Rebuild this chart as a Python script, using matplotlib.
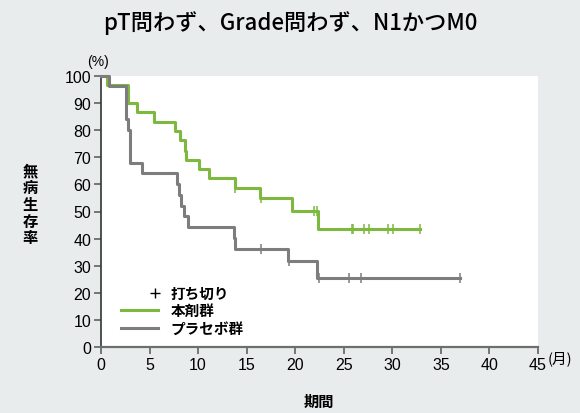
import numpy as np
import matplotlib
matplotlib.use('Agg')
import matplotlib.pyplot as plt
from matplotlib.lines import Line2D
from matplotlib.legend_handler import HandlerLine2D

plt.rcParams['font.family'] = ['Liberation Sans', 'Noto Sans CJK JP', 'DejaVu Sans']

# Kaplan-Meier steps (months, %)
drug_t = [0, 0.6, 2.75, 3.7, 5.5, 7.6, 8.1, 8.6, 8.8, 10.1, 11.1, 13.85, 16.4, 19.7, 22.35]
drug_s = [100, 96.7, 90.0, 86.7, 83.0, 79.8, 76.2, 72.5, 69.0, 65.7, 62.4, 58.8, 55.0, 50.1, 43.5]
drug_end = 32.9
drug_cens = [13.85, 16.45, 21.9, 22.25, 25.8, 26.0, 27.1, 27.6, 29.6, 30.1, 32.9]

plac_t = [0, 0.85, 2.6, 2.8, 3.0, 4.2, 7.85, 8.05, 8.25, 8.5, 9.0, 13.65, 13.8, 19.3, 22.2]
plac_s = [100, 96.4, 84.1, 80.2, 68.0, 64.1, 60.0, 56.0, 52.1, 48.2, 44.2, 40.1, 36.2, 31.9, 25.4]
plac_end = 37.0
plac_cens = [16.5, 19.35, 22.4, 25.5, 26.8, 37.0]

x_ticks = [0, 5, 10, 15, 20, 25, 30, 35, 40, 45]
y_ticks = [0, 10, 20, 30, 40, 50, 60, 70, 80, 90, 100]

green = '#7db83f'
grey = '#7d7d7d'
bg = '#e9ecec'


def level_at(times, surv, t):
    idx = np.searchsorted(times, t, side='right') - 1
    return surv[idx]


class RightMarkerHandler(HandlerLine2D):
    # single censor mark near the right end of the handle, as in the source
    def get_xdata(self, legend, xdescent, ydescent, width, height, fontsize):
        x = -xdescent + 0.9 * width
        return [x], [x]


fig = plt.figure(figsize=(5.8, 4.14), dpi=100, facecolor=bg)
ax = fig.add_axes([101 / 580, 1 - 348 / 414, 437 / 580, 271 / 414])
ax.set_facecolor('white')

for t, s, end, cens, col in [(drug_t, drug_s, drug_end, drug_cens, green),
                             (plac_t, plac_s, plac_end, plac_cens, grey)]:
    ax.step(t + [end], s + [s[-1]], where='post', color=col, lw=2.2, clip_on=False, zorder=3)
    cy = [level_at(t, s, c) for c in cens]
    ax.plot(cens, cy, linestyle='none', marker='|', markersize=7, mew=1.1,
            color=col, clip_on=False, zorder=4)

ax.set_xlim(0, 45)
ax.set_ylim(0, 100)
ax.set_xticks(x_ticks)
ax.set_yticks(y_ticks)
ax.tick_params(axis='both', labelsize=11.5, length=5, width=1.1, color='#555555', pad=2)
for side in ['top', 'right']:
    ax.spines[side].set_visible(False)
ax.spines['left'].set_color('#333333')
ax.spines['bottom'].set_color('#6e6e6e')
ax.spines['left'].set_linewidth(1.2)
ax.spines['bottom'].set_linewidth(1.6)

handles = [Line2D([], [], color='black', marker='+', linestyle='none', markersize=6.5, mew=1),
           Line2D([], [], color=green, lw=2.2),
           Line2D([], [], color=grey, lw=2.2)]
labels = ['打ち切り', '本剤群', 'プラセボ群']
leg = ax.legend(handles, labels, loc='lower left', bbox_to_anchor=(0.046, 0.04),
                frameon=False, borderpad=0, borderaxespad=0,
                handlelength=2.55, handletextpad=0.85, labelspacing=0.12,
                prop={'family': ['Noto Sans CJK JP'], 'size': 10.5, 'weight': 'bold'},
                handler_map={handles[0]: RightMarkerHandler(numpoints=2)})

fig.text(0.5, 1 - 23 / 414, 'pT問わず、Grade問わず、N1かつM0', ha='center', va='center',
         fontsize=16, weight='medium', family=['Noto Sans CJK JP'])
fig.text(98 / 580, 1 - 62 / 414, '(%)', ha='center', va='center', fontsize=10)
fig.text(548 / 580, 1 - 359 / 414, '(月)', ha='left', va='center', fontsize=10.5,
         family=['Noto Sans CJK JP'])
fig.text(30 / 580, 1 - 205 / 414, '\n'.join('無病生存率'), ha='center', va='center',
         fontsize=11, weight='bold', linespacing=1.05, family=['Noto Sans CJK JP'])
fig.text(319 / 580, 1 - 402 / 414, '期間', ha='center', va='center',
         fontsize=11, weight='bold', family=['Noto Sans CJK JP'])

fig.savefig('out.png', dpi=100, facecolor=bg)
